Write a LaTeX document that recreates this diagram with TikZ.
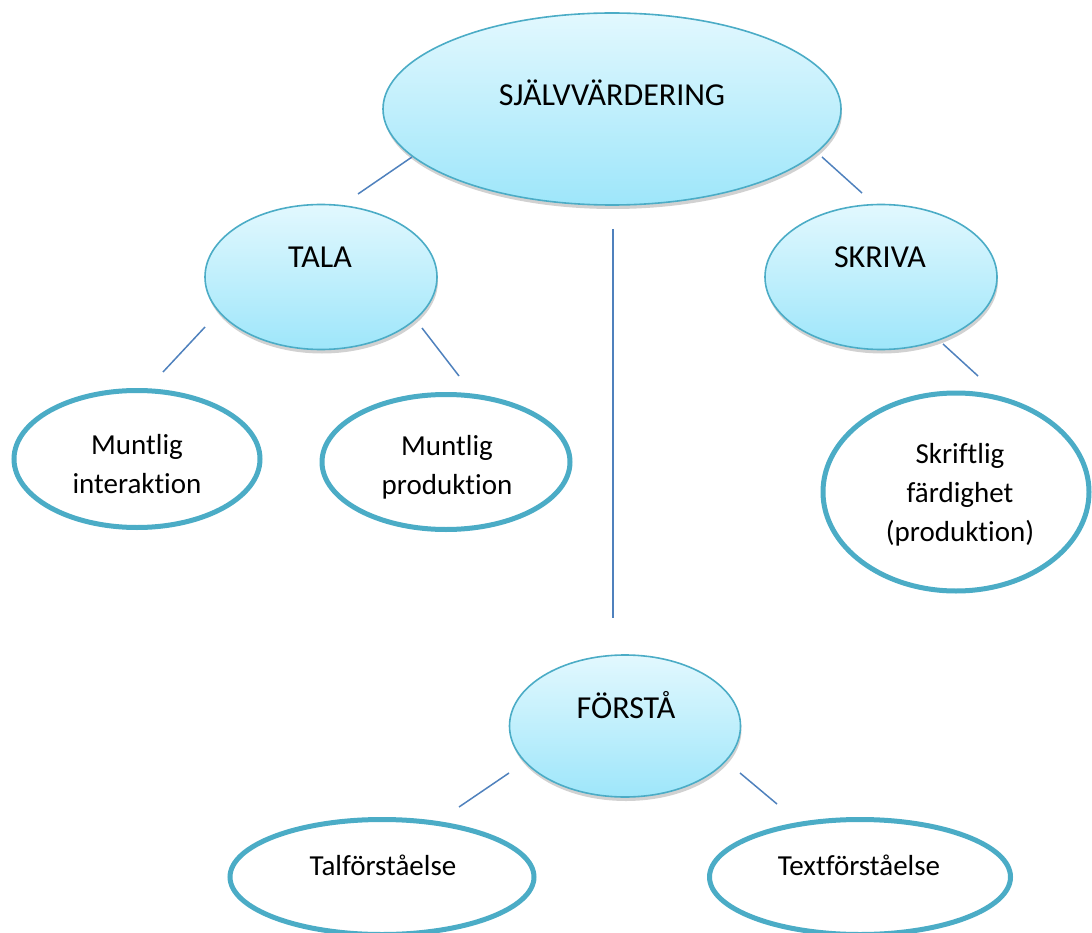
\documentclass[tikz,border=0pt]{standalone}
\usepackage{fontspec}
\setmainfont{Carlito}[Ligatures={NoCommon}]
\usetikzlibrary{shapes.geometric,shadows}
\definecolor{linec}{RGB}{79,129,189}
\definecolor{borderc}{RGB}{75,172,198}
\definecolor{filltop}{RGB}{226,248,254}
\definecolor{fillbot}{RGB}{158,230,250}
\tikzset{
  filledell/.style={ellipse, draw=borderc, line width=1.6pt, top color=filltop, bottom color=fillbot, inner sep=0pt,
    drop shadow={opacity=0.3, shadow xshift=1pt, shadow yshift=-4pt, fill=black!60}},
  whiteell/.style={ellipse, draw=borderc, line width=5pt, fill=white, inner sep=0pt},
  bigtxt/.style={font=\fontsize{32}{38}\selectfont, inner sep=0pt},
  smalltxt/.style={font=\fontsize{29}{39}\selectfont, align=center, inner sep=0pt},
  conn/.style={draw=linec, line width=1.5pt}
}
\begin{document}
\begin{tikzpicture}[x=1pt,y=-1pt]
\useasboundingbox (0,0) rectangle (1092,933);
% filled ellipses
\node[filledell, minimum width=458pt, minimum height=192pt] (main) at (612,109) {};
\node[filledell, minimum width=232pt, minimum height=145pt] (tala) at (321,277) {};
\node[filledell, minimum width=232pt, minimum height=145pt] (skriva) at (881,277) {};
\node[filledell, minimum width=231pt, minimum height=142pt] (forsta) at (625,726) {};
% white ellipses
\node[whiteell, minimum width=246pt, minimum height=137pt] (mi) at (137,459) {};
\node[whiteell, minimum width=248pt, minimum height=135pt] (mp) at (446,462) {};
\node[whiteell, minimum width=266pt, minimum height=198pt] (sf) at (956,492) {};
\node[whiteell, minimum width=304pt, minimum height=115pt] (tf) at (382,877) {};
\node[whiteell, minimum width=301pt, minimum height=115pt] (xf) at (860,877) {};
% texts
\node[bigtxt] (main-t) at (612,93) {SJÄLVVÄRDERING};
\node[bigtxt] (tala-t) at (320,257) {TALA};
\node[bigtxt] (skriva-t) at (880,257) {SKRIVA};
\node[bigtxt] (forsta-t) at (626,705) {FÖRSTÅ};
\node[smalltxt] (mi-t) at (137,464) {Muntlig\\interaktion};
\node[smalltxt] (mp-t) at (447,467) {Muntlig\\produktion};
\node[smalltxt] (sf-t) at (960,495) {Skriftlig\\färdighet\\(produktion)};
\node[smalltxt] (tf-t) at (383,865) {Talförståelse};
\node[smalltxt] (xf-t) at (859,865) {Textförståelse};
% connector end points
\coordinate (c1a) at (412,157); \coordinate (c1b) at (358,194);
\coordinate (c2a) at (822,157); \coordinate (c2b) at (862,193);
\coordinate (c3a) at (613,229); \coordinate (c3b) at (613,618);
\coordinate (c4a) at (205,327); \coordinate (c4b) at (163,372);
\coordinate (c5a) at (422,328); \coordinate (c5b) at (459,376);
\coordinate (c6a) at (943,344); \coordinate (c6b) at (978,376);
\coordinate (c7a) at (509,773); \coordinate (c7b) at (459,807);
\coordinate (c8a) at (740,773); \coordinate (c8b) at (777,804);
\draw[conn] (c1a) -- (c1b);
\draw[conn] (c2a) -- (c2b);
\draw[conn] (c3a) -- (c3b);
\draw[conn] (c4a) -- (c4b);
\draw[conn] (c5a) -- (c5b);
\draw[conn] (c6a) -- (c6b);
\draw[conn] (c7a) -- (c7b);
\draw[conn] (c8a) -- (c8b);
\end{tikzpicture}
\end{document}
